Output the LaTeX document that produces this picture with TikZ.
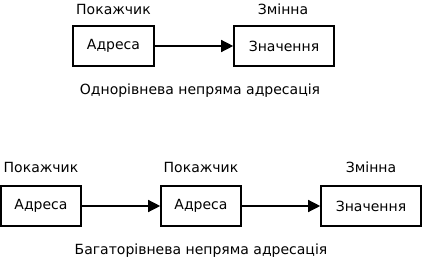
\documentclass[tikz,border=0pt]{standalone}
\usepackage{fontspec}
\setmainfont{DejaVu Sans}
\usetikzlibrary{arrows.meta}
\begin{document}
\begin{tikzpicture}[x=1pt,y=-1pt,
  box/.style={draw,line width=1.6pt,minimum height=40pt,inner sep=0pt,font=\fontsize{14}{16}\selectfont},
  lbl/.style={inner sep=0pt,font=\fontsize{14}{16}\selectfont},
  arr/.style={line width=1.3pt,-{Triangle[length=12pt,width=12pt]}}]
\useasboundingbox (0,0) rectangle (422,259);
% top
\node[box,minimum width=81pt] (a1) at (113.5,46) {Адреса};
\node[box,minimum width=100pt] (v1) at (284,46) {Значення};
\node[lbl] (p1) at (113.5,9) {Покажчик};
\node[lbl] (z1) at (283,9) {Змінна};
\node[lbl] (c1) at (200,91) {Однорівнева непряма адресація};
\draw[arr] (a1) -- (v1);
% bottom
\node[box,minimum width=80pt] (a2) at (41,206) {Адреса};
\node[box,minimum width=80pt] (a3) at (201,206) {Адреса};
\node[box,minimum width=100pt] (v2) at (371,206) {Значення};
\node[lbl] (p2) at (41,167) {Покажчик};
\node[lbl] (p3) at (201,167) {Покажчик};
\node[lbl] (z2) at (371,167) {Змінна};
\node[lbl] (c2) at (201,251) {Багаторівнева непряма адресація};
\draw[arr] (a2) -- (a3);
\draw[arr] (a3) -- (v2);
\end{tikzpicture}
\end{document}
